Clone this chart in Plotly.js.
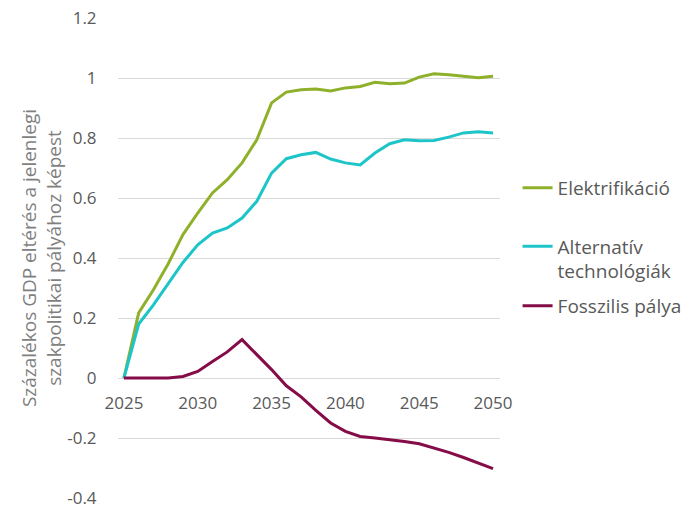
<!DOCTYPE html>
<html>
<head>
<meta charset="utf-8">
<script src="https://cdn.plot.ly/plotly-3.0.1.min.js"></script>
<style>
  html, body { margin: 0; padding: 0; background: #fff; }
  #chart { width: 690px; height: 517px; }
</style>
</head>
<body>
<div id="chart"></div>
<script>
const years = [2025, 2026, 2027, 2028, 2029, 2030, 2031, 2032, 2033, 2034, 2035, 2036, 2037,
  2038, 2039, 2040, 2041, 2042, 2043, 2044, 2045, 2046, 2047, 2048, 2049, 2050];

const elektrifikacio = [0, 0.217, 0.294, 0.381, 0.478, 0.55, 0.617, 0.661, 0.717, 0.794, 0.917, 0.953, 0.961,
  0.963, 0.957, 0.967, 0.972, 0.986, 0.981, 0.983, 1.003, 1.014, 1.011, 1.006, 1.001, 1.006];

const alternativ = [0, 0.18, 0.244, 0.314, 0.385, 0.444, 0.483, 0.5, 0.533, 0.589, 0.683, 0.731, 0.744,
  0.752, 0.73, 0.717, 0.71, 0.75, 0.781, 0.794, 0.791, 0.792, 0.803, 0.817, 0.821, 0.817];

const fosszilis = [0, 0, 0, 0, 0.005, 0.022, 0.055, 0.087, 0.128, 0.078, 0.028, -0.026, -0.063,
  -0.108, -0.15, -0.178, -0.195, -0.2, -0.205, -0.212, -0.219, -0.233, -0.248, -0.265, -0.284, -0.302];

const seriesNames = ['Elektrifikáció', 'Alternatív<br>technológiák', 'Fosszilis pálya'];
const xTicks = [2025, 2030, 2035, 2040, 2045, 2050];
const yTicks = [-0.4, -0.2, 0, 0.2, 0.4, 0.6, 0.8, 1, 1.2];
const yTickLabels = ['-0.4', '-0.2', '0', '0.2', '0.4', '0.6', '0.8', '1', '1.2'];

const colors = ['#8fb02a', '#1dc4c8', '#850c48'];
const font = 'Open Sans, sans-serif';

const values = [elektrifikacio, alternativ, fosszilis];
const legendIds = ['legend', 'legend2', 'legend3'];
// vertical spot of each legend entry, paper fraction
const legendY = [0.646, 0.498, 0.4];

const data = values.map((v, i) => ({
  type: 'scatter',
  mode: 'lines',
  x: years,
  y: v,
  name: seriesNames[i],
  legend: legendIds[i],
  line: { color: colors[i], width: 3 },
  hoverinfo: 'skip'
}));

const layout = {
  width: 690,
  height: 517,
  margin: { l: 118, r: 190, t: 18, b: 19, autoexpand: false },
  paper_bgcolor: '#fff',
  plot_bgcolor: '#fff',
  font: { family: font, size: 17, color: '#595959' },
  showlegend: true,
  xaxis: {
    range: [2024.6, 2050.47],
    tickvals: xTicks,
    ticktext: xTicks.map(String),
    showgrid: false,
    zeroline: false,
    showline: false,
    anchor: 'free',
    position: 0.25,
    ticks: 'outside',
    ticklen: 10,
    tickcolor: 'rgba(0,0,0,0)',
    tickfont: { family: font, size: 17, color: '#595959' },
    fixedrange: true
  },
  yaxis: {
    range: [-0.4, 1.2],
    tickvals: yTicks,
    ticktext: yTickLabels,
    showgrid: true,
    gridcolor: '#d9d9d9',
    gridwidth: 1,
    zeroline: false,
    showline: false,
    ticks: 'outside',
    ticklen: 17,
    tickcolor: 'rgba(0,0,0,0)',
    tickfont: { family: font, size: 17, color: '#595959' },
    title: {
      text: 'Százalékos GDP eltérés a jelenlegi<br>szakpolitikai pályához képest',
      font: { family: font, size: 19, color: '#7f7f7f' },
      standoff: 0
    },
    fixedrange: true
  }
};

legendIds.forEach((id, i) => {
  layout[id] = {
    x: 1.046,
    y: legendY[i],
    xanchor: 'left',
    yanchor: 'middle',
    valign: 'top',
    bgcolor: 'rgba(0,0,0,0)',
    font: { family: font, size: 19, color: '#595959' },
    itemwidth: 30
  };
});

Plotly.newPlot('chart', data, layout, { displayModeBar: false, staticPlot: true });
</script>
</body>
</html>
